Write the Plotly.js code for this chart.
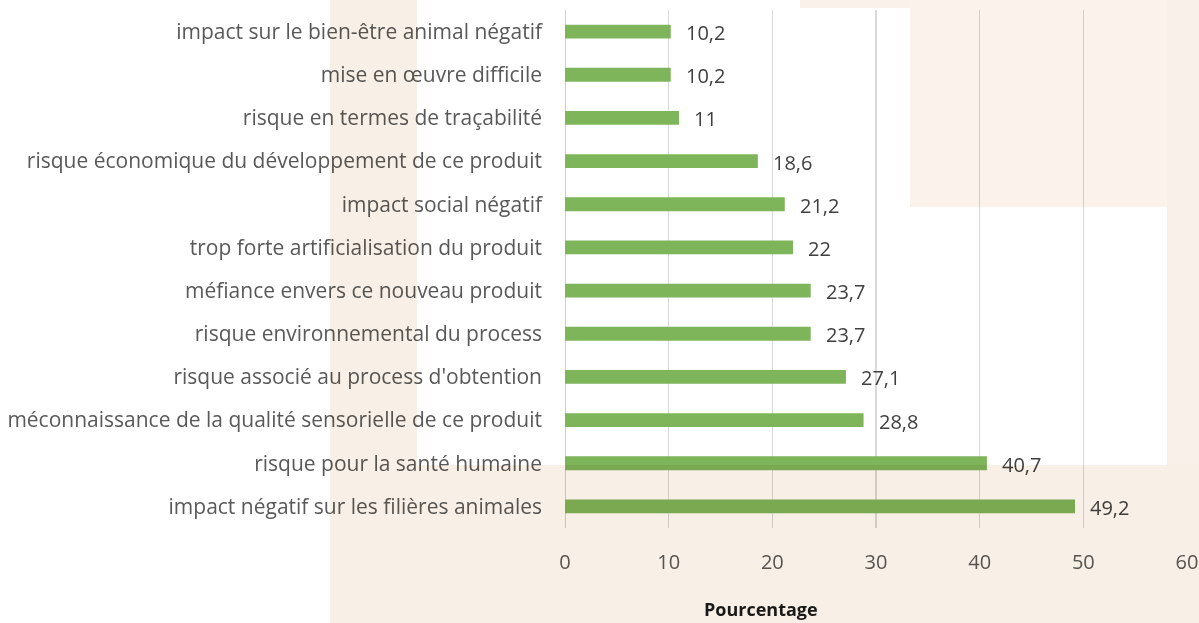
<!DOCTYPE html>
<html>
<head>
<meta charset="utf-8">
<script src="https://cdn.plot.ly/plotly-3.0.1.min.js"></script>
<style>
html,body{margin:0;padding:0;background:#fff;overflow:hidden;}
#wrap{position:relative;width:1199px;height:623px;overflow:hidden;background:#fff;}
#chart{position:absolute;left:0;top:0;width:1199px;height:623px;}
.bg{position:absolute;mix-blend-mode:multiply;pointer-events:none;z-index:5;}
</style>
</head>
<body>
<div id="wrap">
  <div id="chart"></div>
  <div class="bg" style="left:330px;top:0;width:87px;height:465px;background:#f8efe6"></div>
  <div class="bg" style="left:330px;top:465px;width:869px;height:158px;background:#f8efe6"></div>
  <div class="bg" style="left:910px;top:0;width:257px;height:207px;background:#faf2eb"></div>
  <div class="bg" style="left:1167px;top:0;width:32px;height:465px;background:#f9f1e9"></div>
  <div class="bg" style="left:800px;top:0;width:110px;height:8px;background:#faf2ea"></div>
</div>
<script>
// Categories, top to bottom as shown
const categories = [
  "impact sur le bien-être animal négatif",
  "mise en œuvre difficile",
  "risque en termes de traçabilité",
  "risque économique du développement de ce produit",
  "impact social négatif",
  "trop forte artificialisation du produit",
  "méfiance envers ce nouveau produit",
  "risque environnemental du process",
  "risque associé au process d'obtention",
  "méconnaissance de la qualité sensorielle de ce produit",
  "risque pour la santé humaine",
  "impact négatif sur les filières animales"
];
const values = [10.2, 10.2, 11, 18.6, 21.2, 22, 23.7, 23.7, 27.1, 28.8, 40.7, 49.2];
const xTicks = [0, 10, 20, 30, 40, 50, 60];
const xTitle = "Pourcentage";

const fmt = v => String(v).replace('.', ',');

const W = 1199, H = 623, L = 565, R = 12, T = 10, B = 95;
const pw = W - L - R, ph = H - T - B;
const px = x => (x - L) / pw;
const py = y => (H - B - y) / ph;

const FONT = '"Open Sans", sans-serif';

const annotations = values.map((v, i) => ({
  x: v, y: categories[i], xref: 'x', yref: 'y',
  text: fmt(v), showarrow: false, xanchor: 'left', xshift: 13, yshift: -1,
  font: {family: FONT, size: 20, color: '#404040'}
}));
annotations.push({
  x: px(761), y: py(609), xref: 'paper', yref: 'paper',
  text: '<b>' + xTitle + '</b>', showarrow: false, xanchor: 'center', yanchor: 'middle',
  font: {family: FONT, size: 18, color: '#1a1a1a'}
});

const trace = {
  type: 'bar', orientation: 'h',
  x: values, y: categories,
  marker: {color: '#7eb45a', line: {width: 0}},
  hoverinfo: 'none'
};

const layout = {
  width: W, height: H,
  margin: {l: L, r: R, t: T, b: B, pad: 0},
  paper_bgcolor: 'rgba(0,0,0,0)', plot_bgcolor: 'rgba(0,0,0,0)',
  bargap: 0.68,
  showlegend: false,
  xaxis: {
    range: [0, 60], tickvals: xTicks, ticktext: xTicks.map(String),
    showgrid: true, gridcolor: '#d9d9d9', gridwidth: 1.5,
    zeroline: false, showline: false, ticks: '',
    ticklabelstandoff: 20,
    tickfont: {family: FONT, size: 20, color: '#595959'}
  },
  yaxis: {
    autorange: 'reversed', showgrid: false, zeroline: false, showline: false,
    ticks: '', ticklabelstandoff: 22,
    tickfont: {family: FONT, size: 21, color: '#595959'}
  },
  shapes: [{
    type: 'line', xref: 'x', yref: 'paper', x0: 0, x1: 0, y0: 0, y1: 1,
    line: {color: '#d0d0d0', width: 2}, layer: 'below'
  }],
  annotations: annotations
};

Plotly.newPlot('chart', [trace], layout, {displayModeBar: false, staticPlot: true});
</script>
</body>
</html>
